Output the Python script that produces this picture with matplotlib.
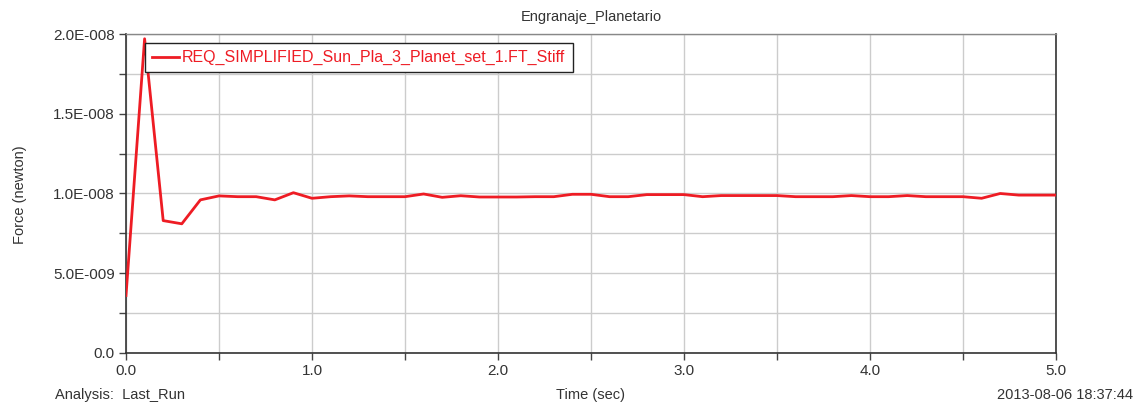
import matplotlib
matplotlib.use("Agg")
import matplotlib.pyplot as plt
from matplotlib.ticker import MultipleLocator, FuncFormatter

plt.rcParams['font.family'] = ['Liberation Sans', 'DejaVu Sans']

time_s = [0.0, 0.1, 0.2, 0.3, 0.4, 0.5, 0.6, 0.7, 0.8, 0.9,
          1.0, 1.1, 1.2, 1.3, 1.4, 1.5, 1.6, 1.7, 1.8, 1.9,
          2.0, 2.1, 2.2, 2.3, 2.4, 2.5, 2.6, 2.7, 2.8, 2.9,
          3.0, 3.1, 3.2, 3.3, 3.4, 3.5, 3.6, 3.7, 3.8, 3.9,
          4.0, 4.1, 4.2, 4.3, 4.4, 4.5, 4.6, 4.7, 4.8, 4.9, 5.0]
force_e9 = [3.6, 19.7, 8.3, 8.1, 9.6, 9.85, 9.8, 9.8, 9.6, 10.05,
            9.7, 9.8, 9.85, 9.8, 9.8, 9.8, 9.97, 9.76, 9.86, 9.78,
            9.78, 9.78, 9.8, 9.8, 9.95, 9.95, 9.8, 9.8, 9.93, 9.93,
            9.93, 9.8, 9.87, 9.87, 9.87, 9.87, 9.8, 9.8, 9.8, 9.87,
            9.8, 9.8, 9.87, 9.8, 9.8, 9.8, 9.7, 10.0, 9.9, 9.9, 9.9]
force = [v * 1e-9 for v in force_e9]

series_label = "REQ_SIMPLIFIED_Sun_Pla_3_Planet_set_1.FT_Stiff"
title = "Engranaje_Planetario"
x_label = "Time (sec)"
y_label = "Force (newton)"
analysis_text = "Analysis:  Last_Run"
stamp_text = "2013-08-06 18:37:44"

txt = "#333333"
red = "#ee1c24"
fig = plt.figure(figsize=(11.41, 4.04), dpi=100)
ax = fig.add_axes([126/1141, 1 - 353/404, (1056-126)/1141, (353-34)/404])

ax.plot(time_s, force, color=red, lw=2.0, label=series_label, zorder=3)

ax.set_xlim(0, 5)
ax.set_ylim(0, 2e-8)
ax.xaxis.set_major_locator(MultipleLocator(1.0))
ax.xaxis.set_minor_locator(MultipleLocator(0.5))
ax.yaxis.set_major_locator(MultipleLocator(5e-9))
ax.yaxis.set_minor_locator(MultipleLocator(2.5e-9))

def yfmt(v, pos):
    if abs(v) < 1e-15:
        return "0.0"
    s = "%.1E" % v
    mant, exp = s.split("E")
    e = int(exp)
    sign = "-" if e < 0 else "+"
    return "%sE%s%03d" % (mant, sign, abs(e))

ax.yaxis.set_major_formatter(FuncFormatter(yfmt))
ax.xaxis.set_major_formatter(FuncFormatter(lambda v, p: "%.1f" % v))

ax.grid(True, which="both", color="#cccccc", lw=1.0, zorder=0)
ax.set_axisbelow(True)
ax.tick_params(which="both", direction="out", length=5, width=1, colors="#444444",
               labelcolor=txt, labelsize=11)
ax.tick_params(axis="y", pad=3)
ax.tick_params(axis="x", pad=3)

for s in ["left", "bottom", "right"]:
    ax.spines[s].set_color("#333333")
    ax.spines[s].set_linewidth(1.2)
ax.spines["top"].set_color("#888888")
ax.spines["top"].set_linewidth(1.0)

ax.set_title(title, fontsize=10.5, color=txt, pad=9)
fig.text(20/1141, 1 - 195/404, y_label, rotation=90, ha="center", va="center",
         fontsize=10.5, color=txt)
fig.text(590/1141, 1 - 395/404, x_label, ha="center", va="center", fontsize=10.5, color=txt)
fig.text(55/1141, 1 - 395/404, analysis_text, ha="left", va="center", fontsize=10.5, color=txt)
fig.text(1133/1141, 1 - 395/404, stamp_text, ha="right", va="center", fontsize=10.5, color=txt)

leg = ax.legend(loc="upper left", bbox_to_anchor=(0.02, 0.972), fontsize=11.5,
                frameon=True, fancybox=False, borderpad=0.45, handlelength=1.7,
                handletextpad=0.2, borderaxespad=0.0)
leg.get_frame().set_edgecolor("#222222")
leg.get_frame().set_linewidth(1.0)
leg.get_frame().set_alpha(1.0)
for t in leg.get_texts():
    t.set_color(red)

fig.savefig("out.png", dpi=100)
